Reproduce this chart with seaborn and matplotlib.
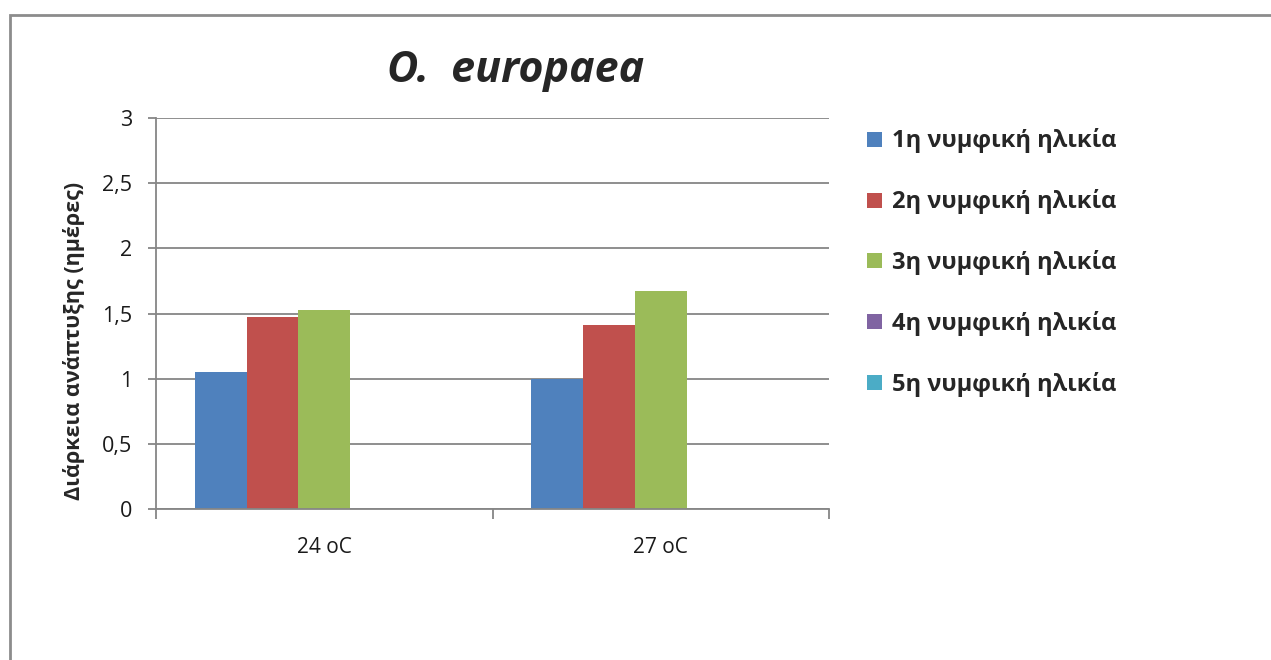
import numpy as np
import pandas as pd
import matplotlib
matplotlib.use("Agg")
import matplotlib.pyplot as plt
from matplotlib.patches import Patch, Rectangle
import seaborn as sns

# Development time per nymphal instar at two temperatures
temperatures = ["24 oC", "27 oC"]
instars = ["1η νυμφική ηλικία", "2η νυμφική ηλικία", "3η νυμφική ηλικία",
           "4η νυμφική ηλικία", "5η νυμφική ηλικία"]
instar1 = [1.05, 1.00]
instar2 = [1.47, 1.41]
instar3 = [1.53, 1.67]
instar4 = [np.nan, np.nan]
instar5 = [np.nan, np.nan]
ytick_values = [0, 0.5, 1, 1.5, 2, 2.5, 3]
ytick_labels = ["0", "0,5", "1", "1,5", "2", "2,5", "3"]
colors = ["#4F81BD", "#C0504D", "#9BBB59", "#8064A2", "#4BACC6"]

rows = []
for name, vals in zip(instars, [instar1, instar2, instar3, instar4, instar5]):
    for t, v in zip(temperatures, vals):
        rows.append({"temp": t, "instar": name, "days": v})
df = pd.DataFrame(rows)

sns.set_theme(style="white")
plt.rcParams["font.family"] = ["Open Sans", "DejaVu Sans"]

fig = plt.figure(figsize=(12.71, 6.60), dpi=100)
ax = fig.add_axes([156 / 1271, 1 - 509 / 660, 673 / 1271, 391 / 660])

sns.barplot(data=df, x="temp", y="days", hue="instar", hue_order=instars,
            order=temperatures, palette=colors, width=5 / 6.5,
            linewidth=0, saturation=1, legend=False, ax=ax, errorbar=None)

grid_c = "#868686"
ax.set_ylim(0, 3)
ax.set_xlim(-0.5, 1.5)
ax.set_yticks(ytick_values)
ax.set_yticklabels(ytick_labels, fontsize=15.5, color="#1a1a1a")
ax.yaxis.grid(True, color=grid_c, linewidth=1.3)
ax.set_axisbelow(True)
ax.set_xticks([0, 1])
ax.set_xticklabels(temperatures, fontsize=15, color="#1a1a1a")
ax.set_xticks([-0.5, 0.5, 1.5], minor=True)
ax.tick_params(axis="x", which="major", length=0, pad=20)
ax.tick_params(axis="x", which="minor", length=7, width=1.3, color=grid_c,
               direction="out", bottom=True)
ax.tick_params(axis="y", length=6, width=1.3, color=grid_c, direction="out",
               left=True, pad=11)
for side in ["top", "right"]:
    ax.spines[side].set_visible(False)
for side in ["left", "bottom"]:
    ax.spines[side].set_color(grid_c)
    ax.spines[side].set_linewidth(1.3)
ax.set_xlabel("")
ax.set_ylabel("Διάρκεια ανάπτυξης (ημέρες)", fontsize=15.5, fontweight="bold")
ax.yaxis.set_label_coords(-0.105, 0.43)

fig.text(516 / 1271, 1 - 70 / 660, "O.  europaea", fontsize=31,
         fontweight="bold", fontstyle="italic", ha="center", va="center")

handles = [Patch(facecolor=c, edgecolor="none") for c in colors]
fig.legend(handles, instars, loc="upper left",
           bbox_to_anchor=(858 / 1271, 1 - 119 / 660), frameon=False,
           prop={"size": 17, "weight": "bold"}, handlelength=0.6,
           handleheight=0.6, handletextpad=0.45, labelspacing=1.52,
           borderaxespad=0)

# chart frame
fig.patches.append(Rectangle((10 / 1271, -0.1), 1.1, 1 - 15 / 660 + 0.1,
                             transform=fig.transFigure, fill=False,
                             edgecolor="#8c8c8c", linewidth=2))

fig.savefig("out.png", dpi=100, facecolor="white")
